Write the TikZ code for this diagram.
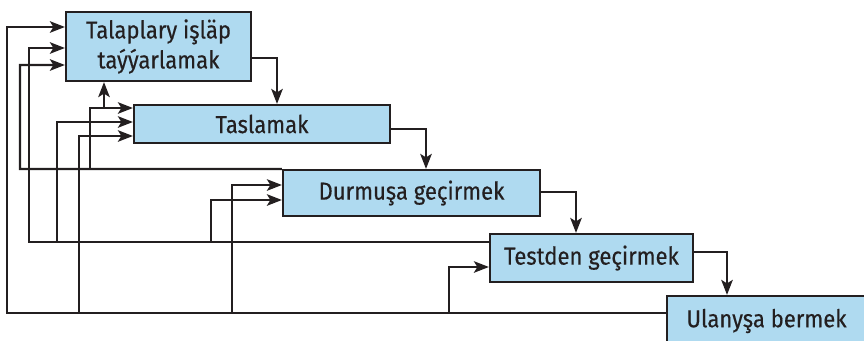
\documentclass[tikz,border=0pt]{standalone}
\usepackage{fontspec}
\setmainfont{Fira Sans}[FakeStretch=0.9,FakeBold=0.4]
\usetikzlibrary{arrows.meta,calc}
\definecolor{boxfill}{HTML}{AFDAF0}
\definecolor{ink}{HTML}{231F20}
\tikzset{
  stagebox/.style={draw=ink, line width=2.2pt, fill=boxfill, inner sep=0pt, text=ink, align=center,
    font=\fontsize{24.5}{30}\selectfont},
  arr/.style={draw=ink, line width=2.2pt, -{Stealth[length=15pt,width=11.5pt,inset=3.5pt]}},
  ln/.style={draw=ink, line width=2.2pt}
}
\begin{document}
\begin{tikzpicture}[x=1pt,y=-1pt]
\useasboundingbox (0,0) rectangle (864,340);
\clip (0,0) rectangle (864,340);
\node[stagebox, minimum width=185pt, minimum height=69pt] (b1) at (158.5,46.5) {Talaplary işläp\\taýýarlamak};
\node[stagebox, minimum width=256pt, minimum height=38pt] (b2) at (262,124) {Taslamak};
\node[stagebox, minimum width=257pt, minimum height=46pt] (b3) at (411.5,193) {Durmuşa geçirmek};
\node[stagebox, minimum width=203pt, minimum height=48pt] (b4) at (591.5,258) {Testden geçirmek};
\node[stagebox, minimum width=199pt, minimum height=50pt] (b5) at (766.5,321) {Ulanyşa bermek};
% forward
\draw[arr] ([yshift=-11.5pt]b1.east) -| ([xshift=15pt]b2.north);
\draw[arr] ([yshift=-5pt]b2.east) -| ([xshift=14.5pt]b3.north);
\draw[arr] ([yshift=1pt]b3.east) -| ([xshift=-15.5pt]b4.north);
\draw[arr] ([yshift=6pt]b4.east) -| ([xshift=-39.5pt]b5.north);
% trunk coordinates
\coordinate (t5) at (7,313);
\coordinate (t4) at (29,242);
\coordinate (t3) at (20,169);
\coordinate (a5) at (79,313);
\coordinate (c5) at (232,313);
\coordinate (d5) at (449,313);
\coordinate (a4) at (57,242);
\coordinate (c4) at (211,242);
\coordinate (a3) at (90,169);
\coordinate (u3) at (104,108);
% feedback from b5
\draw[arr] ([yshift=8pt]b5.west) -- (t5) |- ([yshift=19.5pt]b1.west);
\draw[arr] (a5) |- ([yshift=-12pt]b2.west);
\draw[arr] (c5) |- ([yshift=8pt]b3.west);
\draw[arr] (d5) |- ([yshift=-9pt]b4.west);
% feedback from b4
\draw[arr] ([yshift=16pt]b4.west) -- (t4) |- ([yshift=-1.5pt]b1.west);
\draw[arr] (a4) |- ([yshift=2pt]b2.west);
\draw[arr] (c4) |- ([yshift=-7pt]b3.west);
% feedback from b3
\draw[arr] (b3.north west) -- (t3) |- ([yshift=-18.5pt]b1.west);
\draw[arr] (a3) |- ([yshift=16pt]b2.west);
\draw[arr] (u3) -- (u3 |- b1.south);
\end{tikzpicture}
\end{document}
